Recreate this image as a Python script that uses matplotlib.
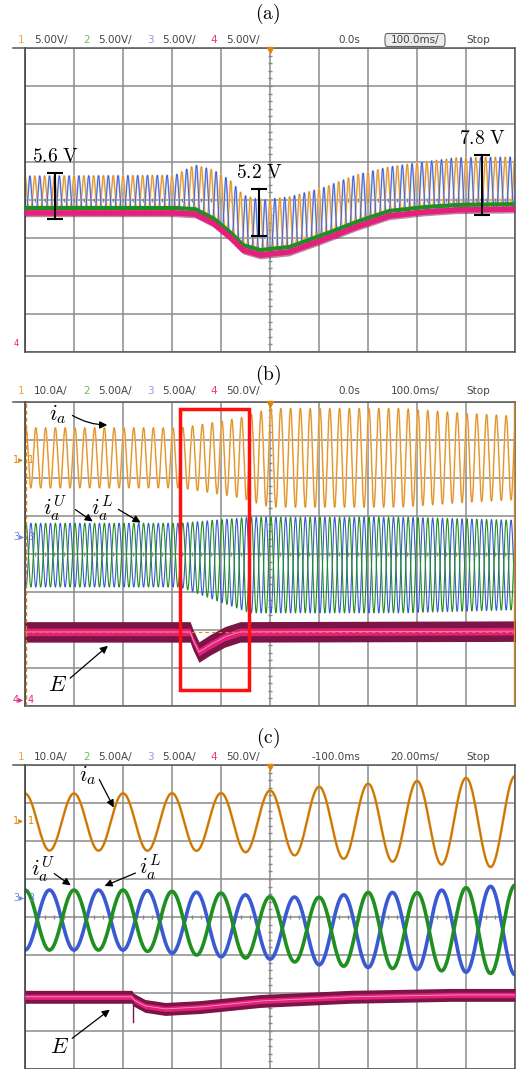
import numpy as np
import matplotlib.pyplot as plt
from matplotlib.patches import Rectangle, FancyBboxPatch, FancyArrowPatch
from matplotlib.lines import Line2D

plt.rcParams['mathtext.fontset'] = 'cm'

W, H = 516, 1069

ORANGE = '#DC860E'
ORANGE_LT = '#F3C98F'
GREEN = '#1F8F1F'
BLUE = '#3A5AD2'
BLUE_LT = '#B3C0EE'
PINK = '#E5207C'
MAROON = '#7A1545'

# ---------------- data (screen divisions, x: 0..10, y: -4..4) ----------------
# (a) sub-module capacitor voltages, 5 V/div, 100 ms/div
a_x = [0, 3.06, 3.47, 3.84, 4.18, 4.45, 4.80, 5.39, 6.08, 6.76, 7.43, 8.12, 8.80, 10.0]
a_low = [-0.34, -0.34, -0.37, -0.61, -0.97, -1.32, -1.45, -1.37, -1.05, -0.71, -0.42, -0.32, -0.26, -0.24]
a_peak = [0.63, 0.65, 0.92, 0.79, 0.53, 0.13, 0.0, 0.08, 0.32, 0.66, 0.87, 1.0, 1.11, 1.13]
a_cycles_per_div = 5
a_brk_x = [0.61, 4.78, 9.33]
a_brk_lo = [-0.50, -0.95, -0.39]
a_brk_hi = [0.71, 0.29, 1.18]
a_brk_txt = ['5.6', '5.2', '7.8']

# (b) 10 A/div, 5 A/div, 5 A/div, 50 V/div, 100 ms/div
b_ia_x = [0, 3.16, 3.57, 4.39, 5.0, 7.65, 8.88, 10.0]
b_ia_amp = [0.79, 0.79, 0.87, 1.05, 1.30, 1.30, 1.18, 1.10]
b_ia_mid = 2.53
b_arm_x = [0, 3.16, 4.59, 7.65, 10.0]
b_arm_mid = [-0.03, -0.03, -0.29, -0.29, -0.29]
b_arm_amp = [0.84, 0.84, 1.26, 1.26, 1.18]
b_E_x = [0, 3.37, 3.43, 3.55, 3.78, 4.08, 4.39, 10.0]
b_E = [-2.05, -2.05, -2.26, -2.58, -2.39, -2.18, -2.05, -2.03]
b_cycles_per_div = 5

# (c) zoomed, 20 ms/div
c_ia_x = [0, 3.98, 5.02, 6.02, 7.02, 8.0, 8.98, 10.0]
c_ia_amp = [0.75, 0.76, 0.83, 0.93, 1.01, 1.08, 1.16, 1.21]
c_ia_mid = 2.5
c_arm_x = [0, 2.14, 4.02, 5.02, 6.02, 7.02, 8.0, 8.98, 10.0]
c_arm_mid = [-0.08, -0.08, -0.21, -0.29, -0.37, -0.34, -0.37, -0.34, -0.34]
c_arm_amp = [0.79, 0.79, 0.84, 0.82, 0.89, 0.99, 1.01, 1.11, 1.18]
c_E_x = [0, 2.18, 2.22, 2.45, 2.86, 3.57, 4.8, 6.63, 8.67, 10.0]
c_E = [-2.1, -2.1, -2.18, -2.34, -2.42, -2.37, -2.21, -2.1, -2.05, -2.05]
c_cycles_per_div = 1

headers = {
    'a': ['5.00V/', '5.00V/', '5.00V/', '5.00V/', '0.0s', '100.0ms/'],
    'b': ['10.0A/', '5.00A/', '5.00A/', '50.0V/', '0.0s', '100.0ms/'],
    'c': ['10.0A/', '5.00A/', '5.00A/', '50.0V/', '-100.0ms', '20.00ms/'],
}


def fxy(x, y):
    # pixel position (from top-left) -> figure fraction
    return x / W, 1 - y / H


def make_panel(top):
    ax = fig.add_axes([25 / W, 1 - (top + 304) / H, 490 / W, 304 / H])
    ax.set_xlim(0, 10)
    ax.set_ylim(-4, 4)
    ax.set_xticks(np.arange(11))
    ax.set_yticks(np.arange(-4, 5))
    ax.grid(color='#8c8c8c', lw=1.1)
    ax.tick_params(length=0, labelbottom=False, labelleft=False)
    for s in ax.spines.values():
        s.set_color('#555555')
        s.set_linewidth(1.1)
    ax.spines['left'].set_color('#333333')
    ax.set_axisbelow(True)
    # small ticks on the centre lines
    mt = np.arange(0.2, 10, 0.2)
    ax.plot(mt, np.zeros_like(mt), '|', ms=3, color='#888888', zorder=1)
    mt = np.arange(-3.8, 4, 0.2)
    ax.plot(np.full_like(mt, 5), mt, '_', ms=3, color='#888888', zorder=1)
    ax.plot([5], [3.95], 'v', color=ORANGE, ms=5, clip_on=False, zorder=6)
    fig.add_artist(Line2D([13 / W, 25 / W], [1 - top / H] * 2, color='#555555', lw=1.1))
    return ax


def header(top_y, key, boxed):
    vals = headers[key]
    y = 1 - top_y / H
    cols = ['#F2A54A', '#6CC24A', '#8E9BE6', '#E8388F']
    xs_num = [18, 83, 147, 210]
    xs_val = [34, 98, 162, 226]
    for i in range(4):
        fig.text(xs_num[i] / W, y, str(i + 1), color=cols[i], fontsize=7.5, va='center')
        fig.text(xs_val[i] / W, y, vals[i], color='#444444', fontsize=7.5, va='center')
    fig.text(360 / W, y, vals[4], color='#444444', fontsize=7.5, va='center', ha='right')
    fig.text(415 / W, y, vals[5], color='#444444', fontsize=7.5, va='center', ha='center')
    fig.text(466 / W, y, 'Stop', color='#444444', fontsize=7.5, va='center')
    if boxed:
        fig.patches.append(FancyBboxPatch((385 / W, y - 6.5 / H), 60 / W, 13 / H,
                                          boxstyle='round,pad=0,rounding_size=0.004',
                                          transform=fig.transFigure, fc='#ececec',
                                          ec='#666666', lw=0.8, zorder=0))


def draw_E(ax, t, e, outer, inner):
    ax.fill_between(t, e - outer, e + outer, color=MAROON, lw=0, zorder=3)
    ax.fill_between(t, e - inner, e + inner, color=PINK, lw=0, zorder=4)
    ax.plot(t, e, color='#F49AC2', lw=0.6, zorder=5)


def arrow(x0, y0, x1, y1, rad=0.0):
    fig.add_artist(FancyArrowPatch(
        fxy(x0, y0), fxy(x1, y1), transform=fig.transFigure,
        arrowstyle='-|>', mutation_scale=11, color='k', lw=0.9,
        connectionstyle=f'arc3,rad={rad}'))


def marker(y, ch, color):
    fig.text(*fxy(13, y), ch + '\u25B8', color=color, fontsize=7, va='center')
    fig.text(*fxy(28, y), ch, color=color, fontsize=7, va='center')


fig = plt.figure(figsize=(W / 100, H / 100), dpi=100)
fig.patch.set_facecolor('white')

# ---------------- panel (a) ----------------
fig.text(*fxy(268, 14), r'$\mathrm{(a)}$', fontsize=14, ha='center', va='center')
header(40, 'a', True)
ax = make_panel(48)
t = np.linspace(0, 10, 8000)
low = np.interp(t, a_x, a_low)
peak = np.interp(t, a_x, a_peak)
green = low + 0.13
ph = 2 * np.pi * a_cycles_per_div * t
w_or = ((1 + np.cos(ph)) / 2) ** 2
w_bl = ((1 + np.cos(ph + np.pi)) / 2) ** 2
or_sig = green + (peak - green) * w_or
bl_sig = low + (peak - low) * w_bl
ax.plot(t, or_sig, color=ORANGE_LT, lw=1.4, zorder=2)
ax.plot(t, bl_sig, color=BLUE_LT, lw=1.4, zorder=2)
ax.plot(t, or_sig, color=ORANGE, lw=0.5, zorder=2)
ax.plot(t, bl_sig, color=BLUE, lw=0.6, zorder=2)
ax.plot(t, green, color=GREEN, lw=3.0, zorder=3)
ax.fill_between(t, low - 0.1, low + 0.08, color=MAROON, lw=0, zorder=3, alpha=0.5)
ax.plot(t, low, color=PINK, lw=4.0, zorder=4)
for bx, lo, hi, txt in zip(a_brk_x, a_brk_lo, a_brk_hi, a_brk_txt):
    ax.plot([bx, bx], [lo, hi], color='k', lw=1.5, zorder=7)
    ax.plot([bx, bx], [lo, hi], '_', color='k', ms=12, mew=1.5, zorder=7)
    ax.text(bx, hi + 0.18, r'$%s\ \mathrm{V}$' % txt, fontsize=14,
            ha='center', va='bottom', zorder=7)
fig.text(*fxy(14, 344), '4', color=PINK, fontsize=6, va='center')

# ---------------- panel (b) ----------------
fig.text(*fxy(268, 375), r'$\mathrm{(b)}$', fontsize=14, ha='center', va='center')
header(391, 'b', False)
ax = make_panel(402)
t = np.linspace(0, 10, 9000)
ph = 2 * np.pi * b_cycles_per_div * (t - 0.22)
ia = b_ia_mid + np.interp(t, b_ia_x, b_ia_amp) * np.cos(ph)
mid = np.interp(t, b_arm_x, b_arm_mid)
amp = np.interp(t, b_arm_x, b_arm_amp)
iu = mid + amp * np.cos(ph)
il = mid - amp * np.cos(ph)
ax.plot(t, ia, color=ORANGE_LT, lw=1.3, zorder=2)
ax.plot(t, ia, color=ORANGE, lw=0.55, zorder=2)
ax.plot(t, il, color=BLUE, lw=0.8, zorder=2)
ax.plot(t, iu, color=GREEN, lw=0.8, zorder=2)
ax.axhline(b_E[0], color=ORANGE, lw=0.8, ls=(0, (3, 3)), zorder=6)
draw_E(ax, t, np.interp(t, b_E_x, b_E), 0.27, 0.1)
ax.axvline(0.02, color=ORANGE, lw=1.0, ls=(0, (3, 2)), zorder=6)
ax.axvline(9.97, color=ORANGE, lw=1.0, zorder=6)
ax.add_patch(Rectangle((3.16, -3.58), 1.41, 7.4, fill=False, ec='#FF1010', lw=2.5, zorder=8))
marker(460, '1', ORANGE)
marker(537, '3', '#6F86E0')
marker(700, '4', PINK)
fig.text(*fxy(58, 414), r'$i_a$', fontsize=16, ha='center', va='center')
arrow(70, 414, 110, 425, rad=0.15)
fig.text(*fxy(55, 508), r'$i_a^U$', fontsize=16, ha='center', va='center')
arrow(73, 508, 95, 523)
fig.text(*fxy(102, 508), r'$i_a^L$', fontsize=16, ha='center', va='center')
arrow(116, 508, 143, 524)
fig.text(*fxy(58, 685), r'$E$', fontsize=16, ha='center', va='center')
arrow(68, 680, 110, 644)

# ---------------- panel (c) ----------------
fig.text(*fxy(268, 738), r'$\mathrm{(c)}$', fontsize=14, ha='center', va='center')
header(757, 'c', False)
ax = make_panel(765)
t = np.linspace(0, 10, 6000)
ph = 2 * np.pi * c_cycles_per_div * t
ia = c_ia_mid + np.interp(t, c_ia_x, c_ia_amp) * np.cos(ph)
mid = np.interp(t, c_arm_x, c_arm_mid)
amp = np.interp(t, c_arm_x, c_arm_amp)
iu = mid + amp * np.cos(ph)
il = mid - amp * np.cos(ph)
ax.plot(t, ia, color=ORANGE, lw=1.8, zorder=2)
ax.plot(t, ia, color='#B86A08', lw=0.5, zorder=2)
ax.plot(t, il, color=BLUE, lw=2.6, zorder=2)
ax.plot(t, iu, color=GREEN, lw=2.6, zorder=2)
draw_E(ax, t, np.interp(t, c_E_x, c_E), 0.17, 0.07)
ax.plot([2.2, 2.2], [-2.2, -2.75], color=MAROON, lw=1.0, zorder=5)
marker(821, '1', ORANGE)
marker(898, '3', '#6F86E0')
fig.text(*fxy(88, 775), r'$i_a$', fontsize=16, ha='center', va='center')
arrow(98, 777, 115, 810)
fig.text(*fxy(43, 869), r'$i_a^U$', fontsize=16, ha='center', va='center')
arrow(52, 872, 73, 887)
fig.text(*fxy(150, 867), r'$i_a^L$', fontsize=16, ha='center', va='center')
arrow(138, 872, 102, 887)
fig.text(*fxy(60, 1047), r'$E$', fontsize=16, ha='center', va='center')
arrow(70, 1040, 112, 1008)

fig.savefig('out.png', dpi=100)
